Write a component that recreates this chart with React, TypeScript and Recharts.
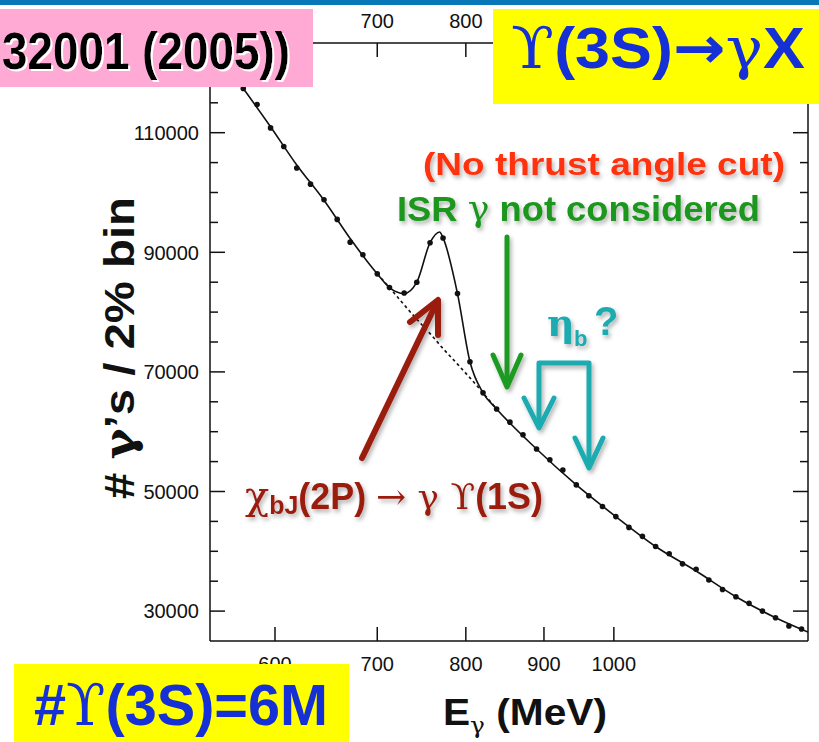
import React from 'react'
import { ComposedChart, Line, XAxis, YAxis } from 'recharts'

const W = 819
const H = 742
const PLOT = { left: 210, top: 43, right: 808, bottom: 641 }
const X_AXIS_H = 30
const Y_AXIS_W = 60

// axis ticks
const X_TICKS = [600, 700, 800, 900, 1000]
const X_TOP_LABELED = [700, 800] // the others sit under the slide boxes
const Y_TICKS = [
  30000, 35000, 40000, 45000, 50000, 55000, 60000, 65000, 70000, 75000,
  80000, 85000, 90000, 95000, 100000, 105000, 110000, 115000, 120000,
]
const Y_LABELED = [30000, 50000, 70000, 90000, 110000]

// measured points (2% bins)
const POINT_E = [
  572, 584, 596, 608, 620, 633, 646, 659, 672, 685, 700, 713, 729, 743, 758,
  773, 790, 805, 821, 838, 855, 872, 890, 908, 926, 945, 963, 983, 1003, 1023,
  1044, 1065, 1087, 1109, 1132, 1154, 1178, 1202, 1226, 1251, 1276, 1302, 1327,
]
const POINT_N = [
  117400, 114700, 110800, 107700, 104100, 101400, 98800, 95500, 91700, 89600,
  86400, 84100, 83200, 85000, 91600, 92400, 83100, 71700, 66500, 63800,
  61600, 59500, 57100, 55300, 53600, 51100, 49300, 47500, 45800, 44000,
  42500, 40800, 39600, 37900, 37000, 35200, 33600, 32400, 31300, 30000,
  28900, 27500, 27000,
]

// fit (solid line)
const FIT_E = [
  560, 572, 596, 620, 646, 672, 700, 713, 729, 743, 758, 769, 773, 790, 805,
  821, 838, 890, 945, 1003, 1065, 1132, 1202, 1276, 1340,
]
const FIT_N = [
  120600, 117400, 111000, 104600, 98700, 92300, 86400, 84100, 83100, 85000,
  91600, 93400, 92400, 83100, 71700, 66500, 63800, 57100, 51100, 45800,
  40800, 36700, 32400, 28900, 26500,
]

// background under the peak (dotted line)
const BKG_E = [700, 713, 729, 743, 758, 773, 790, 805, 821, 838]
const BKG_N = [86400, 84100, 81200, 78800, 76400, 73900, 71300, 69000, 66500, 63800]

const points = POINT_E.map((e, i) => ({ e, n: POINT_N[i] }))
const fit = FIT_E.map((e, i) => ({ e, n: FIT_N[i] }))
const bkg = BKG_E.map((e, i) => ({ e, n: BKG_N[i] }))

const SANS = '"Liberation Sans", Arial, Helvetica, sans-serif'
const SERIF = '"DejaVu Serif", "Liberation Serif", serif'
const tickText = { fontFamily: SANS, fontSize: 20, fill: '#111' }

function XTick(props: any) {
  const { x, payload } = props
  return (
    <g>
      <line x1={x} x2={x} y1={PLOT.bottom} y2={PLOT.bottom - 14} stroke="#111" strokeWidth={1.5} />
      <line x1={x} x2={x} y1={PLOT.top} y2={PLOT.top + 14} stroke="#111" strokeWidth={1.5} />
      <text x={x} y={PLOT.bottom + 30} textAnchor="middle" style={tickText}>{payload.value}</text>
      {X_TOP_LABELED.includes(payload.value) && (
        <text x={x} y={PLOT.top - 15} textAnchor="middle" style={tickText}>{payload.value}</text>
      )}
    </g>
  )
}

function YTick(props: any) {
  const { y, payload } = props
  const major = Y_LABELED.includes(payload.value)
  const len = major ? 15 : 8
  return (
    <g>
      <line x1={PLOT.left} x2={PLOT.left + len} y1={y} y2={y} stroke="#111" strokeWidth={1.5} />
      <line x1={PLOT.right} x2={PLOT.right - len} y1={y} y2={y} stroke="#111" strokeWidth={1.5} />
      {major && (
        <text x={PLOT.left - 11} y={y} dy="0.36em" textAnchor="end" style={tickText}>
          {payload.value}
        </text>
      )}
    </g>
  )
}

export default function App() {
  return (
    <div style={{ position: 'absolute', left: 0, top: 0, width: W, height: H, background: '#fff' }}>
      <ComposedChart
        width={W}
        height={H}
        margin={{
          top: PLOT.top,
          right: W - PLOT.right,
          bottom: H - PLOT.bottom - X_AXIS_H,
          left: PLOT.left - Y_AXIS_W,
        }}
      >
        <XAxis
          type="number"
          dataKey="e"
          scale="log"
          domain={[544, 1340]}
          allowDataOverflow
          ticks={X_TICKS}
          interval={0}
          height={X_AXIS_H}
          tickSize={0}
          tickMargin={0}
          tickLine={false}
          axisLine={{ stroke: '#111', strokeWidth: 1.5 }}
          tick={(p: any) => <XTick {...p} />}
        />
        <YAxis
          type="number"
          dataKey="n"
          domain={[25000, 125000]}
          allowDataOverflow
          ticks={Y_TICKS}
          interval={0}
          width={Y_AXIS_W}
          tickSize={0}
          tickMargin={0}
          tickLine={false}
          axisLine={{ stroke: '#111', strokeWidth: 1.5 }}
          tick={(p: any) => <YTick {...p} />}
        />
        <Line
          data={bkg}
          dataKey="n"
          type="monotone"
          stroke="#111"
          strokeWidth={1.6}
          strokeDasharray="3 3"
          dot={false}
          isAnimationActive={false}
        />
        <Line
          data={fit}
          dataKey="n"
          type="monotone"
          stroke="#111"
          strokeWidth={1.6}
          dot={false}
          isAnimationActive={false}
        />
        <Line
          data={points}
          dataKey="n"
          stroke="none"
          dot={{ r: 2.8, fill: '#111', stroke: 'none' }}
          isAnimationActive={false}
        />
      </ComposedChart>

      <svg
        width={W}
        height={H}
        style={{ position: 'absolute', left: 0, top: 0, pointerEvents: 'none' }}
      >
        <defs>
          <filter id="sh" x="-30%" y="-30%" width="160%" height="160%">
            <feDropShadow dx="2" dy="3" stdDeviation="2" floodColor="#000" floodOpacity="0.3" />
          </filter>
          <filter id="wsh" x="-10%" y="-30%" width="120%" height="160%">
            <feDropShadow dx="2" dy="2" stdDeviation="0.3" floodColor="#fff" floodOpacity="1" />
          </filter>
        </defs>

        {/* frame top and right */}
        <line x1={PLOT.left} x2={PLOT.right} y1={PLOT.top} y2={PLOT.top} stroke="#111" strokeWidth={1.5} />
        <line x1={PLOT.right} x2={PLOT.right} y1={PLOT.top} y2={PLOT.bottom} stroke="#111" strokeWidth={1.5} />

        {/* slide header strip */}
        <rect x={0} y={0} width={W} height={5} fill="#0878b9" />

        {/* reference box */}
        <rect x={0} y={9} width={313} height={78} fill="#ffaad5" />
        <text x={290} y={69} textAnchor="end" fontFamily={SANS} fontWeight="bold" fontSize={52}
          fill="#000" textLength={288} lengthAdjust="spacingAndGlyphs" filter="url(#wsh)">32001 (2005))</text>

        {/* title box */}
        <rect x={493} y={9} width={326} height={95} fill="#ffff00" />
        <text x={511} y={68} fontFamily={SANS} fontWeight="bold" fontSize={58} fill="#1530d6"
          textLength={294} lengthAdjust="spacingAndGlyphs">
          <tspan fontFamily={SERIF} fontWeight="normal">ϒ</tspan>(3S)<tspan fontFamily={'"DejaVu Sans", sans-serif'}>→</tspan><tspan fontFamily={SERIF} fontWeight="normal">γ</tspan>X
        </text>

        {/* sample size box */}
        <rect x={14} y={664} width={335} height={78} fill="#ffff00" />
        <text x={34} y={725} fontFamily={SANS} fontWeight="bold" fontSize={58} fill="#1530d6"
          textLength={294} lengthAdjust="spacingAndGlyphs">
          #<tspan fontFamily={SERIF} fontWeight="normal">ϒ</tspan>(3S)=6M
        </text>

        {/* axis titles */}
        <text transform="rotate(-90 134 348)" x={134} y={348} textAnchor="middle" fontFamily={SANS}
          fontWeight="bold" fontSize={42} fill="#111" textLength={302} lengthAdjust="spacingAndGlyphs">
          # <tspan fontFamily={SERIF} fontWeight="bold">γ</tspan>’s / 2% bin
        </text>
        <text x={443} y={725} fontFamily={SANS} fontWeight="bold" fontSize={36} fill="#111"
          textLength={164} lengthAdjust="spacingAndGlyphs">
          E<tspan dy={8} fontSize={22} fontFamily={SERIF} fontWeight="normal">γ</tspan><tspan dy={-8}> (MeV)</tspan>
        </text>

        {/* annotations */}
        <g filter="url(#sh)">
          <text x={423} y={175} fontFamily={SANS} fontWeight="bold" fontSize={31} fill="#ff3311"
            textLength={362} lengthAdjust="spacingAndGlyphs">(No thrust angle cut)</text>
          <text x={397} y={221} fontFamily={SANS} fontWeight="bold" fontSize={35} fill="#1a961e"
            textLength={363} lengthAdjust="spacingAndGlyphs">
            ISR <tspan fontFamily={SERIF} fontWeight="normal">γ</tspan> not considered
          </text>

          <g stroke="#1e9a22" strokeWidth={5} fill="none" strokeLinecap="round" strokeLinejoin="round">
            <line x1={507} y1={237} x2={507} y2={385} />
            <polyline points="493,355 507,387 521,355" />
          </g>

          <text x={547} y={336} fontFamily={SERIF} fontWeight="bold" fontSize={38} fill="#1aabb0">η</text>
          <text x={574} y={346} fontFamily={SANS} fontWeight="bold" fontSize={22} fill="#1aabb0">b</text>
          <text x={594} y={335} fontFamily={SANS} fontWeight="bold" fontSize={40} fill="#1aabb0">?</text>
          <g stroke="#1aabb0" strokeWidth={5} fill="none" strokeLinecap="round" strokeLinejoin="round">
            <polyline points="539,426 539,363 589,363 589,466" />
            <polyline points="524,398 539,428 554,398" />
            <polyline points="575,438 589,468 603,438" />
          </g>

          <g stroke="#9a1b10" strokeWidth={6} fill="none" strokeLinecap="round" strokeLinejoin="round">
            <line x1={362} y1={458} x2={437} y2={302} />
            <polyline points="410,322 438,300 438,335" />
          </g>
          <text x={245} y={509} fontFamily={SANS} fontWeight="bold" fontSize={36} fill="#9a1b10"
            textLength={298} lengthAdjust="spacingAndGlyphs">
            <tspan fontFamily={SERIF} fontWeight="normal" fontSize={40}>χ</tspan>
            <tspan dy={5} fontSize={25}>bJ</tspan>
            <tspan dy={-5}>(2P) </tspan>
            <tspan fontFamily={SERIF} fontWeight="normal">→ γ ϒ</tspan>
            <tspan>(1S)</tspan>
          </text>
        </g>
      </svg>
    </div>
  )
}
